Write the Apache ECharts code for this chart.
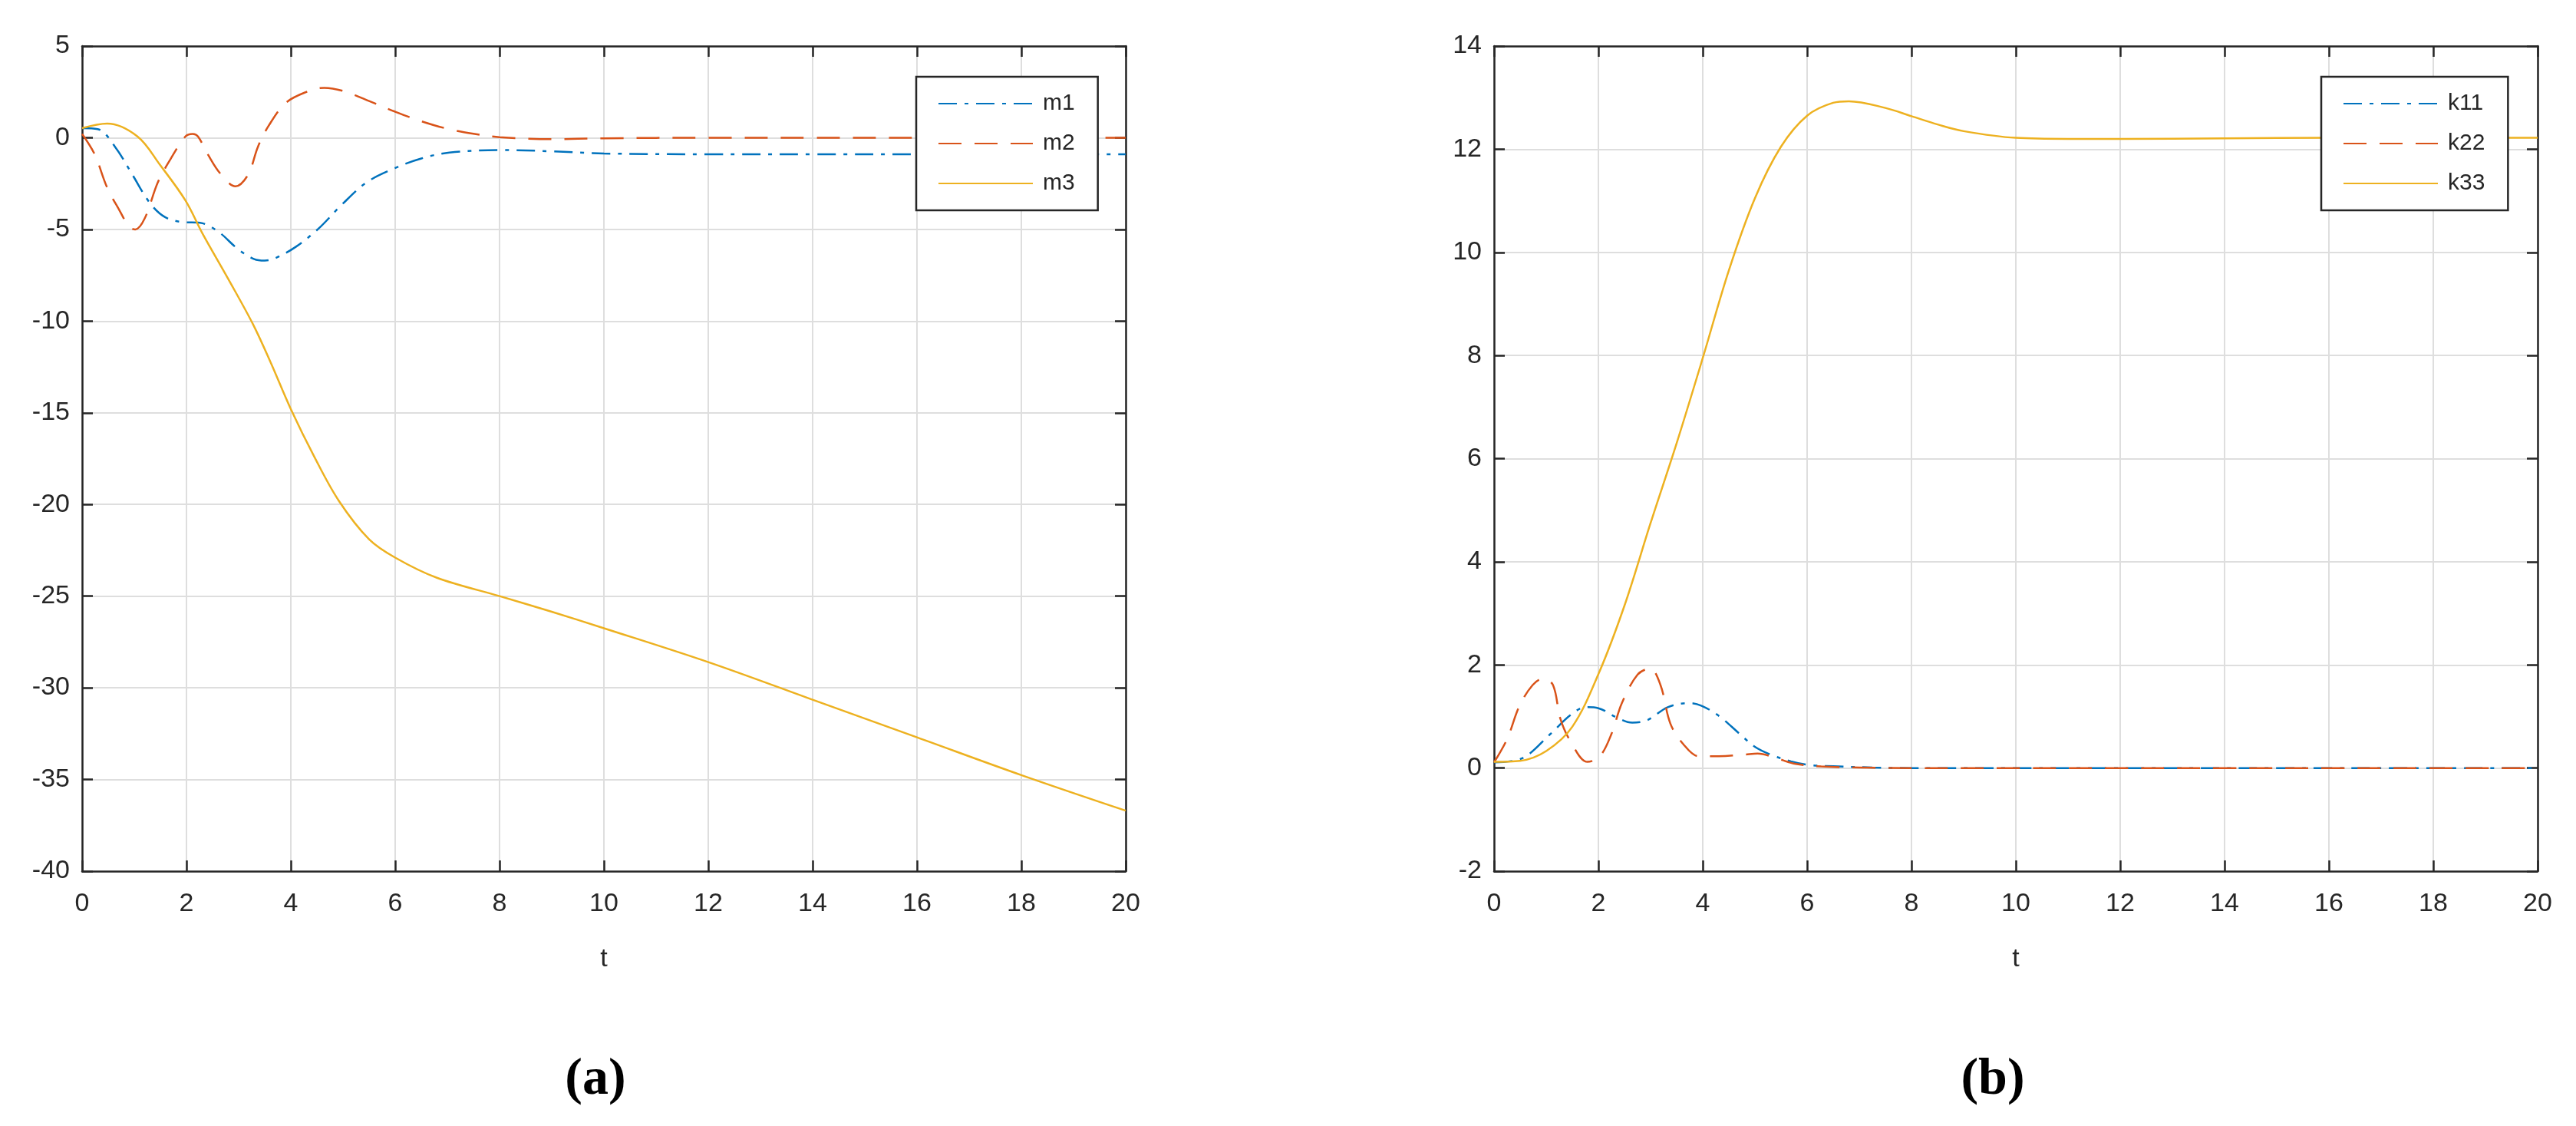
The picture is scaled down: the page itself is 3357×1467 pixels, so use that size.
<!DOCTYPE html>
<html>
<head>
<meta charset="utf-8">
<script src="https://cdn.jsdelivr.net/npm/echarts@6/dist/echarts.min.js"></script>
<style>
html,body{margin:0;padding:0;background:#fff;}
#chart{width:3357px;height:1467px;}
</style>
</head>
<body>
<div id="chart"></div>
<script>
// ---------- Data ----------
// Panel (a)
const m1T = [0, 0.3, 0.63, 0.96, 1.3, 1.59, 1.93, 2.26, 2.6, 2.99, 3.3, 3.5, 3.71, 4.1, 4.53, 4.96, 5.45, 6, 6.5, 7.04, 8, 9, 10, 12, 14, 16, 18, 20];
const m1V = [0.52, 0.47, -0.49, -2.0, -3.56, -4.33, -4.6, -4.64, -5.1, -6.08, -6.62, -6.7, -6.56, -5.94, -4.96, -3.7, -2.44, -1.65, -1.13, -0.81, -0.67, -0.74, -0.86, -0.9, -0.9, -0.9, -0.9, -0.9];

const m2T = [0, 0.24, 0.48, 0.72, 0.9, 1.02, 1.2, 1.45, 1.69, 1.98, 2.12, 2.22, 2.41, 2.65, 2.94, 3.18, 3.37, 3.57, 3.9, 4.3, 4.64, 5.0, 5.5, 6, 6.5, 7, 7.5, 8, 9, 10, 12, 14, 16, 18, 20];
const m2V = [0.21, -0.9, -2.72, -3.98, -4.85, -5.0, -4.4, -2.44, -1.19, 0.07, 0.21, 0.07, -0.91, -1.96, -2.65, -2.02, -0.49, 0.63, 1.89, 2.5, 2.72, 2.55, 2.0, 1.42, 0.9, 0.49, 0.22, 0.03, -0.08, -0.03, 0, 0, 0, 0, 0];

const m3T = [0, 0.48, 1.06, 1.49, 1.98, 2.31, 2.8, 3.28, 3.62, 4, 4.45, 4.92, 5.5, 6, 6.8, 8, 9, 10, 12, 14, 16, 18, 20];
const m3V = [0.52, 0.77, 0.07, -1.47, -3.42, -5.24, -7.7, -10.2, -12.3, -14.8, -17.4, -19.8, -21.9, -22.9, -24.0, -25.0, -25.85, -26.75, -28.6, -30.65, -32.7, -34.76, -36.7];

// Panel (b)
const k11T = [0, 0.54, 1.08, 1.47, 1.76, 2.0, 2.35, 2.65, 2.94, 3.33, 3.73, 3.97, 4.31, 4.71, 5.0, 5.3, 5.69, 6.03, 6.5, 7.25, 8, 10, 12, 14, 16, 18, 20];
const k11V = [0.11, 0.19, 0.66, 1.03, 1.18, 1.16, 0.98, 0.88, 0.93, 1.18, 1.26, 1.21, 1.01, 0.66, 0.41, 0.26, 0.13, 0.06, 0.035, 0.01, 0, 0, 0, 0, 0, 0, 0];

const k22T = [0, 0.25, 0.49, 0.74, 0.93, 1.13, 1.27, 1.47, 1.79, 2.03, 2.25, 2.45, 2.75, 2.99, 3.19, 3.38, 3.63, 3.92, 4.31, 4.8, 5.05, 5.44, 5.78, 6.27, 7, 8, 10, 12, 14, 16, 18, 20];
const k22V = [0.11, 0.56, 1.21, 1.61, 1.73, 1.61, 0.96, 0.51, 0.12, 0.23, 0.66, 1.26, 1.81, 1.93, 1.61, 0.86, 0.46, 0.23, 0.23, 0.26, 0.28, 0.18, 0.08, 0.03, 0.01, 0, 0, 0, 0, 0, 0, 0];

const k33T = [0, 0.5, 1, 1.5, 2, 2.5, 3, 3.5, 4, 4.5, 5, 5.5, 6, 6.5, 6.8, 7.5, 8, 8.5, 9, 10, 11, 12, 14, 16, 18, 20];
const k33V = [0.12, 0.14, 0.33, 0.8, 1.82, 3.15, 4.75, 6.3, 7.95, 9.65, 11.05, 12.05, 12.65, 12.9, 12.93, 12.8, 12.64, 12.48, 12.35, 12.22, 12.2, 12.2, 12.21, 12.22, 12.22, 12.22];

// Axis ticks
const xTicks = {min: 0, max: 20, interval: 2};
const yTicksA = {min: -40, max: 5, interval: 5};
const yTicksB = {min: -2, max: 14, interval: 2};
const namesA = ['m1', 'm2', 'm3'];
const namesB = ['k11', 'k22', 'k33'];
const panelLabels = ['a', 'b'];

// ---------- Styling ----------
const C_BLUE = '#0072BD', C_ORANGE = '#D95319', C_YELLOW = '#EDB120';
const AX = '#262626';
const FONT = 'Liberation Sans, Arial, Helvetica, sans-serif';
const DASH = [30, 17];
const DASHDOT = [24, 10, 5, 10];

const zip = (t, v) => t.map((x, i) => [x, v[i]]);

function mainX(gi) {
  return {
    type: 'value', gridIndex: gi, position: 'bottom', ...xTicks,
    axisLine: {show: true, onZero: false, lineStyle: {color: AX, width: 2.5}},
    axisTick: {show: true, inside: true, length: 14, lineStyle: {color: AX, width: 2.5}},
    splitLine: {show: true, lineStyle: {color: '#dedede', width: 2}},
    axisLabel: {fontSize: 34, color: AX, fontFamily: FONT, margin: 26},
    name: 't', nameLocation: 'middle', nameGap: 98,
    nameTextStyle: {fontSize: 34, color: AX, fontFamily: FONT}
  };
}
function topX(gi) {
  return {
    type: 'value', gridIndex: gi, position: 'top', ...xTicks,
    axisLine: {show: true, onZero: false, lineStyle: {color: AX, width: 2.5}},
    axisTick: {show: true, inside: true, length: 14, lineStyle: {color: AX, width: 2.5}},
    splitLine: {show: false}, axisLabel: {show: false}
  };
}
function mainY(gi, ticks) {
  return {
    type: 'value', gridIndex: gi, position: 'left', ...ticks,
    axisLine: {show: true, onZero: false, lineStyle: {color: AX, width: 2.5}},
    axisTick: {show: true, inside: true, length: 14, lineStyle: {color: AX, width: 2.5}},
    splitLine: {show: true, lineStyle: {color: '#dedede', width: 2}},
    axisLabel: {fontSize: 34, color: AX, fontFamily: FONT, margin: 16}
  };
}
function rightY(gi, ticks) {
  return {
    type: 'value', gridIndex: gi, position: 'right', ...ticks,
    axisLine: {show: true, onZero: false, lineStyle: {color: AX, width: 2.5}},
    axisTick: {show: true, inside: true, length: 14, lineStyle: {color: AX, width: 2.5}},
    splitLine: {show: false}, axisLabel: {show: false}
  };
}
function line(name, t, v, color, type, xi, yi) {
  return {
    name, type: 'line', xAxisIndex: xi, yAxisIndex: yi,
    data: zip(t, v), showSymbol: false, symbol: 'none', smooth: 0.35,
    lineStyle: {color, width: 2.5, type}, itemStyle: {color}, z: 3
  };
}
function legend(names, left) {
  return {
    data: names, orient: 'vertical', left, top: 100,
    padding: [20, 30, 20, 28], itemWidth: 123, itemHeight: 30, itemGap: 22,
    borderColor: AX, borderWidth: 2.5, backgroundColor: '#fff',
    itemStyle: {opacity: 0},
    textStyle: {fontSize: 30, color: AX, fontFamily: FONT, padding: [0, 0, 0, 8]}
  };
}
function panelTitle(letter, cx) {
  return {
    text: '{p|(}{b|' + letter + '}{p|)}', left: cx, top: 1368, textAlign: 'center',
    textStyle: {
      rich: {
        p: {fontFamily: 'Liberation Serif, Times New Roman, serif', fontSize: 68, color: '#000'},
        b: {fontFamily: 'Liberation Serif, Times New Roman, serif', fontSize: 68, fontWeight: 'bold', color: '#000'}
      }
    }
  };
}

const option = {
  backgroundColor: '#fff',
  animation: false,
  title: [panelTitle(panelLabels[0], 771), panelTitle(panelLabels[1], 2592)],
  grid: [
    {left: 107, top: 60, width: 1360, height: 1075},
    {left: 1947, top: 60, width: 1360, height: 1075}
  ],
  xAxis: [mainX(0), topX(0), mainX(1), topX(1)],
  yAxis: [mainY(0, yTicksA), rightY(0, yTicksA), mainY(1, yTicksB), rightY(1, yTicksB)],
  legend: [legend(namesA, 1194), legend(namesB, 3025)],
  series: [
    line(namesA[0], m1T, m1V, C_BLUE, DASHDOT, 0, 0),
    line(namesA[1], m2T, m2V, C_ORANGE, DASH, 0, 0),
    line(namesA[2], m3T, m3V, C_YELLOW, 'solid', 0, 0),
    line(namesB[0], k11T, k11V, C_BLUE, DASHDOT, 2, 2),
    line(namesB[1], k22T, k22V, C_ORANGE, DASH, 2, 2),
    line(namesB[2], k33T, k33V, C_YELLOW, 'solid', 2, 2)
  ]
};

const chart = echarts.init(document.getElementById('chart'), null, {renderer: 'canvas'});
chart.setOption(option);
</script>
</body>
</html>
